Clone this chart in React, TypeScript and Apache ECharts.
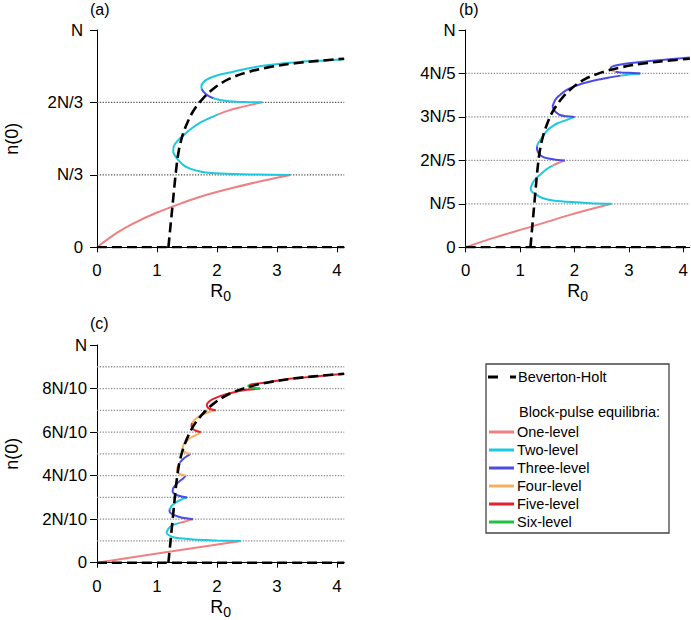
import React, { useEffect, useRef } from "react";
import * as echarts from "echarts";

const FONT = "'Liberation Sans', Arial, Helvetica, sans-serif";
const X_MAX = 4.12;

// tick values / labels
const xTicks = [0, 1, 2, 3, 4];
const aTicks = [0, 1 / 3, 2 / 3, 1];
const aTickLabels = ["0", "N/3", "2N/3", "N"];
const bTicks = [0, 0.2, 0.4, 0.6, 0.8, 1];
const bTickLabels = ["0", "N/5", "2N/5", "3N/5", "4N/5", "N"];
const cTicks = [0, 0.2, 0.4, 0.6, 0.8, 1];
const cTickLabels = ["0", "2N/10", "4N/10", "6N/10", "8N/10", "N"];
const aRefs = [1 / 3, 2 / 3];
const bRefs = [0.2, 0.4, 0.6, 0.8];
const cRefs = [0.1, 0.2, 0.3, 0.4, 0.5, 0.6, 0.7, 0.8, 0.9];

const levelNames = ["One-level", "Two-level", "Three-level", "Four-level", "Five-level", "Six-level"];
const levelColors = ["#F08080", "#1EC8E0", "#4B4BE8", "#F5B060", "#E8202A", "#20C040"];

// Beverton-Holt (same curve in every panel)
const bhZero = [[0, 0], [X_MAX, 0]];
const bhCurve = [
  [1.19, 0], [1.215, 0.07], [1.24, 0.14], [1.265, 0.21], [1.29, 0.28], [1.32, 0.36],
  [1.36, 0.44], [1.42, 0.51], [1.5, 0.57], [1.6, 0.625], [1.75, 0.68], [1.95, 0.732],
  [2.2, 0.775], [2.5, 0.805], [2.85, 0.828], [3.3, 0.847], [3.7, 0.858], [4.12, 0.868],
];

// Panel (a)
const aOne1 = [[0, 0], [0.33, 0.066], [0.6, 0.109], [1.0, 0.16], [1.4, 0.202], [1.72, 0.233], [2.27, 0.274], [2.83, 0.31], [3.22, 0.333]];
const aTwo1 = [[3.22, 0.333], [2.7, 0.335], [2.27, 0.337], [1.9, 0.342], [1.72, 0.349], [1.55, 0.362], [1.44, 0.378], [1.36, 0.4], [1.3, 0.422], [1.27, 0.44], [1.28, 0.465], [1.34, 0.49], [1.44, 0.515], [1.58, 0.548], [1.75, 0.578], [2.02, 0.612]];
const aOne2 = [[2.02, 0.612], [2.2, 0.63], [2.4, 0.645], [2.6, 0.658], [2.75, 0.667]];
const aTwo2 = [[2.75, 0.667], [2.5, 0.668], [2.2, 0.672], [2.05, 0.678], [1.94, 0.686]];
const aThree1 = [[1.94, 0.686], [1.85, 0.698], [1.78, 0.714], [1.745, 0.728]];
const aTwo3 = [[1.745, 0.728], [1.74, 0.742], [1.78, 0.762], [1.88, 0.779], [2.05, 0.795], [2.27, 0.808], [2.55, 0.825], [2.83, 0.838], [3.38, 0.853], [3.8, 0.86], [4.12, 0.865]];

// Panel (b)
const bOne1 = [[0, 0], [0.48, 0.041], [1.21, 0.095], [1.9, 0.148], [2.68, 0.2]];
const bTwo1 = [[2.68, 0.2], [2.3, 0.203], [2.04, 0.207], [1.75, 0.212], [1.55, 0.218], [1.4, 0.228], [1.305, 0.241], [1.22, 0.255], [1.195, 0.268], [1.22, 0.29], [1.27, 0.31], [1.35, 0.33], [1.43, 0.348], [1.52, 0.365], [1.6, 0.376]];
const bOne2 = [[1.6, 0.376], [1.7, 0.388], [1.825, 0.4]];
const bThree1 = [[1.825, 0.4], [1.7, 0.402], [1.61, 0.405], [1.5, 0.41], [1.43, 0.415], [1.36, 0.428], [1.315, 0.447], [1.31, 0.465]];
const bTwo2 = [[1.31, 0.465], [1.34, 0.482], [1.39, 0.5], [1.45, 0.522], [1.52, 0.543], [1.6, 0.558], [1.7, 0.572], [1.82, 0.583], [1.92, 0.592], [2.0, 0.6]];
const bThree2 = [[2.0, 0.6], [1.85, 0.603], [1.73, 0.609], [1.66, 0.621], [1.62, 0.634], [1.6, 0.648], [1.62, 0.665], [1.67, 0.686], [1.76, 0.707], [1.86, 0.724], [2.0, 0.741], [2.16, 0.755], [2.4, 0.77], [2.65, 0.782], [2.85, 0.79]];
const bTwo3 = [[2.85, 0.79], [3.0, 0.795], [3.21, 0.8]];
const bThree3 = [[3.21, 0.8], [3.0, 0.803], [2.85, 0.805], [2.75, 0.808]];
const bFour1 = [[2.75, 0.808], [2.69, 0.813], [2.66, 0.82]];
const bThree4 = [[2.66, 0.82], [2.67, 0.828], [2.72, 0.834], [2.8, 0.839], [3.0, 0.847], [3.26, 0.854], [3.6, 0.862], [4.12, 0.874]];

// Panel (c)
const cOne1 = [[0, 0], [1.2, 0.05], [2.4, 0.1]];
const cTwo1 = [[2.4, 0.1], [2.0, 0.102], [1.83, 0.104], [1.6, 0.107], [1.38, 0.112], [1.27, 0.117], [1.2, 0.126], [1.16, 0.138], [1.18, 0.152], [1.22, 0.165], [1.28, 0.175], [1.38, 0.183]];
const cOne2 = [[1.38, 0.183], [1.5, 0.192], [1.6, 0.2]];
const cThree1 = [[1.6, 0.2], [1.45, 0.205], [1.35, 0.212], [1.26, 0.222], [1.21, 0.234], [1.21, 0.245]];
const cTwo2 = [[1.21, 0.245], [1.24, 0.26], [1.3, 0.275], [1.38, 0.287], [1.5, 0.3]];
const cThree2 = [[1.5, 0.3], [1.38, 0.306], [1.3, 0.315], [1.26, 0.327], [1.27, 0.342], [1.32, 0.36], [1.38, 0.375], [1.44, 0.388], [1.48, 0.4]];
const cFour1 = [[1.48, 0.4], [1.4, 0.405], [1.35, 0.415], [1.335, 0.43], [1.35, 0.445], [1.38, 0.46]];
const cThree3 = [[1.38, 0.46], [1.45, 0.48], [1.56, 0.5]];
const cFour2 = [[1.56, 0.5], [1.48, 0.506], [1.44, 0.515], [1.43, 0.528], [1.45, 0.545], [1.52, 0.565], [1.6, 0.58], [1.69, 0.592], [1.73, 0.6]];
const cFive1 = [[1.73, 0.6], [1.65, 0.606], [1.6, 0.615], [1.575, 0.628], [1.585, 0.642]];
const cFour3 = [[1.585, 0.642], [1.62, 0.655], [1.7, 0.672], [1.83, 0.689], [1.98, 0.7]];
const cFive2 = [[1.98, 0.7], [1.9, 0.705], [1.85, 0.712], [1.83, 0.724], [1.86, 0.738], [1.93, 0.751], [2.05, 0.765], [2.25, 0.781], [2.5, 0.794], [2.72, 0.8]];
const cSix1 = [[2.72, 0.8], [2.62, 0.803], [2.55, 0.806], [2.52, 0.812], [2.55, 0.818]];
const cFive3 = [[2.55, 0.818], [2.65, 0.822], [2.83, 0.828], [3.13, 0.842], [3.38, 0.849], [3.8, 0.86], [4.12, 0.867]];

// segments: [level index, data]
const panelASegments: [number, number[][]][] = [[0, aOne1], [1, aTwo1], [0, aOne2], [1, aTwo2], [2, aThree1], [1, aTwo3]];
const panelBSegments: [number, number[][]][] = [[0, bOne1], [1, bTwo1], [0, bOne2], [2, bThree1], [1, bTwo2], [2, bThree2], [1, bTwo3], [2, bThree3], [3, bFour1], [2, bThree4]];
const panelCSegments: [number, number[][]][] = [[0, cOne1], [1, cTwo1], [0, cOne2], [2, cThree1], [1, cTwo2], [2, cThree2], [3, cFour1], [2, cThree3], [3, cFour2], [4, cFive1], [3, cFour3], [4, cFive2], [5, cSix1], [4, cFive3]];

const panels = [
  { label: "(a)", grid: { left: 97, top: 30, width: 247.2, height: 217.3 }, ticks: aTicks, tickLabels: aTickLabels, refs: aRefs, refColor: "#555", segs: panelASegments, yTitle: true, interval: 1 / 3, labelPos: [90, 1], yMargin: 14 },
  { label: "(b)", grid: { left: 465.7, top: 30, width: 224.1, height: 217.3 }, ticks: bTicks, tickLabels: bTickLabels, refs: bRefs, refColor: "#8a8a8a", segs: panelBSegments, yTitle: false, interval: 0.2, labelPos: [459, 1], yMargin: 10 },
  { label: "(c)", grid: { left: 97, top: 345, width: 247.2, height: 217.7 }, ticks: cTicks, tickLabels: cTickLabels, refs: cRefs, refColor: "#8a8a8a", segs: panelCSegments, yTitle: true, interval: 0.2, labelPos: [90, 315], yMargin: 10 },
];

export default function App() {
  const ref = useRef<HTMLDivElement>(null);
  useEffect(() => {
    if (!ref.current) return;
    const chart = echarts.init(ref.current, null, { renderer: "svg" });
    const grid: any[] = [];
    const xAxis: any[] = [];
    const yAxis: any[] = [];
    const series: any[] = [];
    const graphic: any[] = [];

    panels.forEach((p, i) => {
      grid.push({ ...p.grid, containLabel: false, outerBoundsMode: "none" });
      xAxis.push({
        type: "value", gridIndex: i, min: 0, max: X_MAX, interval: 1,
        axisLine: { show: true, onZero: false, lineStyle: { color: "#000", width: 1 } },
        axisTick: { show: true, inside: false, length: 5, customValues: xTicks, lineStyle: { color: "#000" } },
        axisLabel: { customValues: xTicks, margin: 15, color: "#000", fontSize: 16.8, fontFamily: FONT, formatter: (v: number) => String(v) },
        splitLine: { show: false },
        name: "{r|R}{s|0}", nameLocation: "middle", nameGap: 35,
        nameTextStyle: { color: "#000", fontFamily: FONT, rich: { r: { fontSize: 18, lineHeight: 21, verticalAlign: "top", fontFamily: FONT, color: "#000" }, s: { fontSize: 14, lineHeight: 21, verticalAlign: "bottom", fontFamily: FONT, color: "#000" } } },
      });
      yAxis.push({
        type: "value", gridIndex: i, min: 0, max: 1, interval: p.interval,
        axisLine: { show: true, lineStyle: { color: "#000", width: 1 } },
        axisTick: { show: true, inside: false, length: 7, customValues: p.ticks, lineStyle: { color: "#000" } },
        axisLabel: {
          customValues: p.ticks, margin: p.yMargin, color: "#000", fontSize: 16.8, fontFamily: FONT,
          formatter: (v: number) => { const k = p.ticks.findIndex((t) => Math.abs(t - v) < 1e-6); return k >= 0 ? p.tickLabels[k] : ""; },
        },
        splitLine: { show: false },
        name: p.yTitle ? "n(0)" : "", nameLocation: "middle", nameGap: 76, nameRotate: 90,
        nameTextStyle: { color: "#000", fontSize: 18, fontFamily: FONT },
      });
      p.refs.forEach((v) => {
        series.push({
          type: "line", xAxisIndex: i, yAxisIndex: i, data: [[0, v], [X_MAX, v]], symbol: "none", silent: true, z: 1,
          lineStyle: { color: p.refColor, width: 1.3, type: [1.3, 1.5] },
        });
      });
      p.segs.forEach(([lvl, data]) => {
        series.push({
          type: "line", name: levelNames[lvl], xAxisIndex: i, yAxisIndex: i, data, symbol: "none", smooth: 0.35, z: 3,
          lineStyle: { color: levelColors[lvl], width: 2 }, itemStyle: { color: levelColors[lvl] },
        });
      });
      [bhZero, bhCurve].forEach((data) => {
        series.push({
          type: "line", name: "Beverton-Holt", xAxisIndex: i, yAxisIndex: i, data, symbol: "none", smooth: 0.35, z: 5,
          lineStyle: { color: "#000", width: 2.6, type: [10, 5] },
        });
      });
      graphic.push({ type: "text", left: p.labelPos[0], top: p.labelPos[1], style: { text: p.label, fontSize: 16, fontFamily: FONT, fill: "#000" } });
    });

    // legend box
    const lx = 486, ly = 364;
    graphic.push({ type: "rect", shape: { x: lx, y: ly, width: 183, height: 169 }, style: { fill: "#fff", stroke: "#444", lineWidth: 1.3 }, z: 10 });
    graphic.push({ type: "line", shape: { x1: 488, y1: 377, x2: 516, y2: 377 }, style: { stroke: "#000", lineWidth: 3, lineDash: [10, 12] }, z: 11 });
    graphic.push({ type: "text", x: 518, y: 377, style: { text: "Beverton-Holt", fontSize: 14.5, fontFamily: FONT, fill: "#000", verticalAlign: "middle" }, z: 11 });
    graphic.push({ type: "text", x: 519, y: 412, style: { text: "Block-pulse equilibria:", fontSize: 14.5, fontFamily: FONT, fill: "#000", verticalAlign: "middle" }, z: 11 });
    levelNames.forEach((name, k) => {
      const y = 432 + k * 18;
      graphic.push({ type: "line", shape: { x1: 489, y1: y, x2: 514, y2: y }, style: { stroke: levelColors[k], lineWidth: 3 }, z: 11 });
      graphic.push({ type: "text", x: 517, y, style: { text: name, fontSize: 14.5, fontFamily: FONT, fill: "#000", verticalAlign: "middle" }, z: 11 });
    });

    chart.setOption({ animation: false, backgroundColor: "#fff", grid, xAxis, yAxis, series, graphic });
    return () => chart.dispose();
  }, []);
  return <div ref={ref} style={{ position: "fixed", left: 0, top: 0, width: 691, height: 620 }} />;
}
